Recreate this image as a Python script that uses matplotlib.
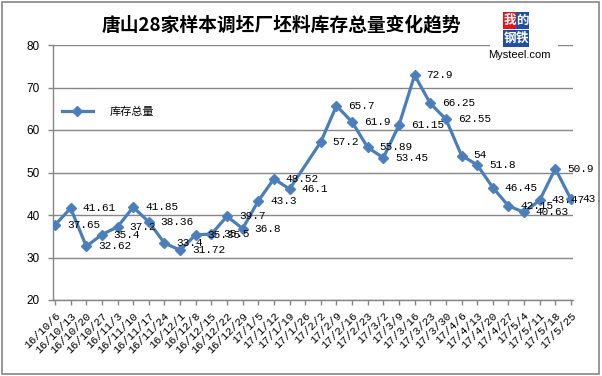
import numpy as np
import matplotlib
matplotlib.use('Agg')
import matplotlib.pyplot as plt
from matplotlib.patches import Rectangle

# weekly dates and stock totals (17/1/26 has no value)
dates = ['16/10/6', '16/10/13', '16/10/20', '16/10/27', '16/11/3', '16/11/10',
         '16/11/17', '16/11/24', '16/12/1', '16/12/8', '16/12/15', '16/12/22',
         '16/12/29', '17/1/5', '17/1/12', '17/1/19', '17/1/26', '17/2/2',
         '17/2/9', '17/2/16', '17/2/23', '17/3/2', '17/3/9', '17/3/16',
         '17/3/23', '17/3/30', '17/4/6', '17/4/13', '17/4/20', '17/4/27',
         '17/5/4', '17/5/11', '17/5/18', '17/5/25']
stock = [37.65, 41.61, 32.62, 35.4, 37.2, 41.85, 38.36, 33.4, 31.72, 35.35,
         35.5, 39.7, 36.8, 43.3, 48.52, 46.1, np.nan, 57.2, 65.7, 61.9,
         55.89, 53.45, 61.15, 72.9, 66.25, 62.55, 54, 51.8, 46.45, 42.15,
         40.63, 43.47, 50.9, 43.7]
labels = ['37.65', '41.61', '32.62', '35.4', '37.2', '41.85', '38.36', '33.4',
          '31.72', '35.35', '35.5', '39.7', '36.8', '43.3', '48.52', '46.1', '',
          '57.2', '65.7', '61.9', '55.89', '53.45', '61.15', '72.9', '66.25',
          '62.55', '54', '51.8', '46.45', '42.15', '40.63', '43.47', '50.9', '43.7']
yticks = [20, 30, 40, 50, 60, 70, 80]

title = '唐山28家样本调坯厂坯料库存总量变化趋势'
series_name = '库存总量'

blue = '#4A7EBB'
gray = '#868686'
mono = 'Liberation Mono'
cjk = ['Noto Sans CJK SC', 'DejaVu Sans']

fig = plt.figure(figsize=(6.02, 3.76), dpi=100)
fig.patches.append(Rectangle((0.003, 0.006), 0.992, 0.988, transform=fig.transFigure,
                             fill=False, edgecolor=gray, linewidth=1.2))

ax = fig.add_axes([53 / 602, 1 - 300 / 376, 520 / 602, 255 / 376])

x = np.arange(len(dates))
y = np.array(stock, dtype=float)
ok = ~np.isnan(y)
ax.plot(x[ok], y[ok], color=blue, linewidth=2.3, marker='D', markersize=5.3,
        markerfacecolor=blue, markeredgecolor='#4F81BD', label=series_name, zorder=3)

for xi, yi, lab in zip(x, y, labels):
    if lab:
        ax.annotate(lab, (xi, yi), xytext=(8.5, 0), textcoords='offset points',
                    ha='left', va='center', fontsize=8, family=mono, zorder=4)

ax.set_xlim(-0.13, len(dates) - 1 + 0.13)
ax.set_ylim(20, 80)
ax.set_yticks(yticks)
ax.yaxis.grid(True, color=gray, linewidth=1)
ax.set_axisbelow(True)
ax.set_xticks(x)
ax.set_xticklabels(dates, rotation=45, ha='right', rotation_mode='anchor',
                   fontsize=8, family=mono)
for lab in ax.get_yticklabels():
    lab.set_family('Liberation Sans')
    lab.set_fontsize(8.5)

for side in ['top', 'right']:
    ax.spines[side].set_visible(False)
for side in ['left', 'bottom']:
    ax.spines[side].set_color(gray)
    ax.spines[side].set_linewidth(1)
ax.tick_params(axis='both', direction='out', length=3.5, color=gray, width=1)
ax.tick_params(axis='x', pad=4)
ax.tick_params(axis='y', pad=6)

leg = ax.legend(loc='center left', bbox_to_anchor=(0.0, 0.737), frameon=False,
                handlelength=2.8, handletextpad=1.5, borderaxespad=0.4,
                prop={'family': cjk, 'size': 8})

fig.text(0.467, 0.934, title, ha='center', va='center', fontsize=13.5,
         fontweight='bold', family=cjk)

# logo block
fig.patches.append(Rectangle((490 / 602, 1 - 64 / 376), 68 / 602, 60 / 376,
                             transform=fig.transFigure, facecolor='white',
                             edgecolor='none', zorder=5))
logo = [('我', '#E8141B', 503, 12), ('的', '#1F4FA8', 516, 12),
        ('钢', '#1F4FA8', 503, 30), ('铁', '#1F4FA8', 516, 30)]
for ch, col, px, py in logo:
    fig.patches.append(Rectangle((px / 602, 1 - (py + 17) / 376), 13 / 602, 17 / 376,
                                 transform=fig.transFigure, facecolor=col,
                                 edgecolor='none', zorder=6))
    fig.text((px + 6.5) / 602, 1 - (py + 8.5) / 376, ch, ha='center', va='center',
             color='white', fontsize=9, fontweight='bold', family=cjk, zorder=7)
fig.text(519 / 602, 1 - 55 / 376, 'Mysteel.com', ha='center', va='center',
         fontsize=8, family='Liberation Sans', zorder=7)

fig.savefig('out.png', dpi=100)
